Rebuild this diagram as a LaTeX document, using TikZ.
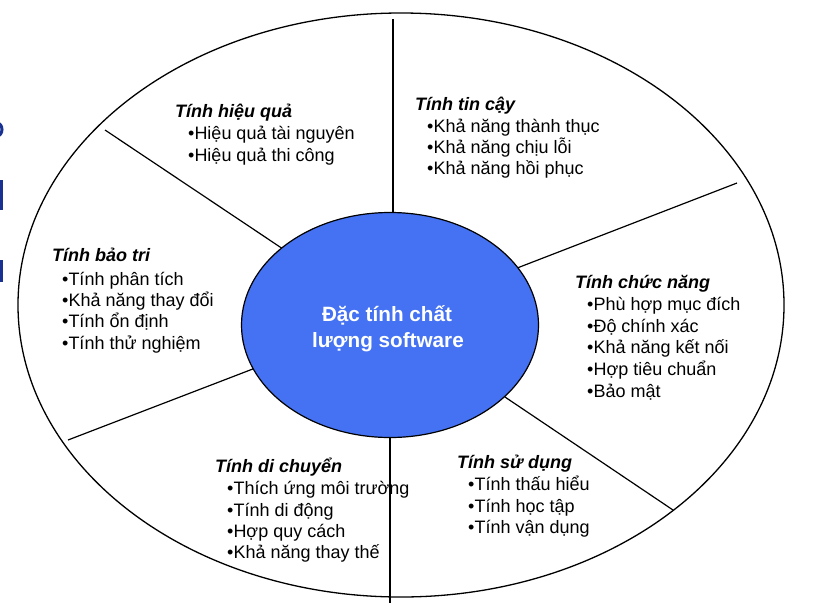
\documentclass[tikz,border=0pt]{standalone}
\usepackage{fontspec}
\setmainfont{Liberation Sans}
\usetikzlibrary{shapes.geometric}
\definecolor{corefill}{RGB}{68,114,242}
\definecolor{navy}{RGB}{25,50,145}
\begin{document}
\begin{tikzpicture}[x=1pt,y=-1pt,
  head/.style={font=\fontsize{18}{21.7}\selectfont\bfseries\itshape, anchor=base west, inner sep=0pt},
  item/.style={font=\fontsize{18}{21.7}\selectfont, anchor=base west, inner sep=0pt},
  coretext/.style={font=\fontsize{20.7}{26}\selectfont\bfseries, text=white, anchor=base, inner sep=0pt},
  divider/.style={line width=1.2pt, black},
  fragment/.style={fill=navy}]
\useasboundingbox (0,0) rectangle (813,611);
% cut-off fragments at the left edge
\draw[navy, line width=3pt] (-3,129.5) ellipse (5 and 6.5);
\fill[fragment] (0,180) rectangle (3,210);
\fill[fragment] (0,260) rectangle (3,282);
% outer ellipse
\node[ellipse, draw, line width=1.3pt, minimum width=766pt, minimum height=584pt, inner sep=0pt] (outer) at (401,305) {};
% divider end points
\coordinate (d1o) at (393,19);  \coordinate (d1i) at (393,220);
\coordinate (d2o) at (105,130); \coordinate (d2i) at (286,251);
\coordinate (d3o) at (737,183); \coordinate (d3i) at (512,270);
\coordinate (d4o) at (68,440);  \coordinate (d4i) at (258,367);
\coordinate (d5i) at (390,430); \coordinate (d5o) at (390,603);
\coordinate (d6i) at (502,395); \coordinate (d6o) at (673,510);
\draw[divider] (d1o) -- (d1i);
\draw[divider] (d2o) -- (d2i);
\draw[divider] (d3o) -- (d3i);
\draw[divider] (d4o) -- (d4i);
\draw[divider] (d5i) -- (d5o);
\draw[divider] (d6i) -- (d6o);
% core ellipse
\node[ellipse, draw, fill=corefill, line width=1.2pt, minimum width=297pt, minimum height=225pt, inner sep=0pt] (core) at (390,325) {};
\node[coretext] (c1) at (387,321) {Đặc tính chất};
\node[coretext] (c2) at (388,347) {lượng software};
% Tinh hieu qua
\node[head] (hq0) at (175,117) {Tính hiệu quả};
\node[item] (hq1) at (188,139) {•Hiệu quả tài nguyên};
\node[item] (hq2) at (188,161) {•Hiệu quả thi công};
% Tinh tin cay
\node[head] (tc0) at (415,110) {Tính tin cậy};
\node[item] (tc1) at (427,132) {•Khả năng thành thục};
\node[item] (tc2) at (427,153) {•Khả năng chịu lỗi};
\node[item] (tc3) at (427,174) {•Khả năng hồi phục};
% Tinh chuc nang
\node[head] (cn0) at (575,288) {Tính chức năng};
\node[item] (cn1) at (587,310) {•Phù hợp mục đích};
\node[item] (cn2) at (587,332) {•Độ chính xác};
\node[item] (cn3) at (587,353) {•Khả năng kết nối};
\node[item] (cn4) at (587,375) {•Hợp tiêu chuẩn};
\node[item] (cn5) at (587,397) {•Bảo mật};
% Tinh bao tri
\node[head] (bt0) at (52,261) {Tính bảo tri};
\node[item] (bt1) at (62,285) {•Tính phân tích};
\node[item] (bt2) at (62,306) {•Khả năng thay đổi};
\node[item] (bt3) at (62,327) {•Tính ổn định};
\node[item] (bt4) at (62,349) {•Tính thử nghiệm};
% Tinh di chuyen
\node[head] (dc0) at (215,472) {Tính di chuyển};
\node[item] (dc1) at (227,494) {•Thích ứng môi trường};
\node[item] (dc2) at (227,516) {•Tính di động};
\node[item] (dc3) at (227,537) {•Hợp quy cách};
\node[item] (dc4) at (227,558) {•Khả năng thay thế};
% Tinh su dung
\node[head] (sd0) at (457,468) {Tính sử dụng};
\node[item] (sd1) at (468,490) {•Tính thấu hiểu};
\node[item] (sd2) at (468,512) {•Tính học tập};
\node[item] (sd3) at (468,533) {•Tính vận dụng};
\end{tikzpicture}
\end{document}
